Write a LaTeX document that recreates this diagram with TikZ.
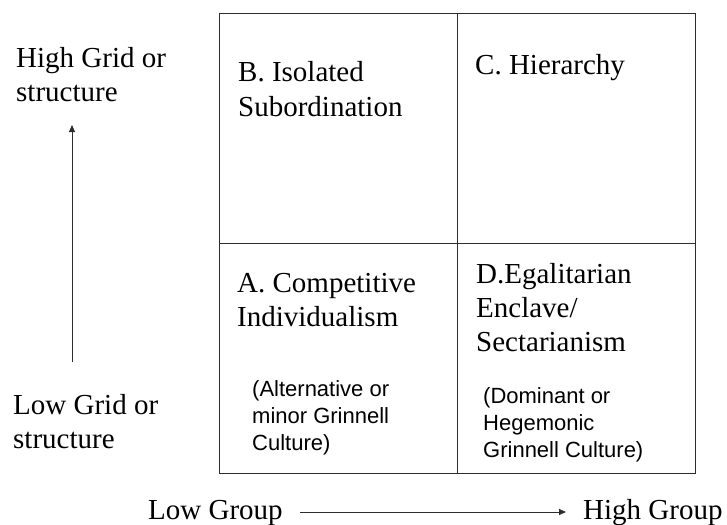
\documentclass[tikz,border=0pt]{standalone}
\usepackage{fontspec}
\setmainfont{Liberation Serif}
\newfontfamily\notefont{Liberation Sans}
\usetikzlibrary{arrows.meta, positioning}
\definecolor{gLine}{RGB}{45, 45, 45}

\begin{document}
\begin{tikzpicture}[x=1pt, y=-1pt,
    cell/.style={draw=gLine, line width=0.9pt, minimum width=238pt, minimum height=230pt, inner sep=0pt},
    label/.style={anchor=base west, inner sep=0pt, align=left, font=\fontsize{29}{34}\selectfont},
    note/.style={anchor=base west, inner sep=0pt, align=left, font=\notefont\fontsize{22}{27}\selectfont},
    axis/.style={draw=gLine, line width=0.9pt, -{Triangle[length=7pt, width=6pt]}}]
  \useasboundingbox (0,0) rectangle (727,524);

  % the four cells
  \node[cell] (qB) at (338,128) {};
  \node[cell, right=0pt of qB] (qC) {};
  \node[cell, below=0pt of qB] (qA) {};
  \node[cell, right=0pt of qA] (qD) {};

  % base anchor sits on the last line
  \node[label] (lB) at (238,116) {B. Isolated\\Subordination};
  \node[label] (lC) at (475,75) {C. Hierarchy};
  \node[label] (lA) at (237,326) {A. Competitive\\Individualism};
  \node[label] (lD) at (476,351) {D.Egalitarian\\Enclave/\\Sectarianism};
  \node[note] (nA) at (252,450) {(Alternative or\\minor Grinnell\\Culture)};
  \node[note] (nD) at (483,457) {(Dominant or\\Hegemonic\\Grinnell Culture)};

  % grid axis
  \node[label] (hiGrid) at (16,102) {High Grid or\\structure};
  \node[label] (loGrid) at (13,448) {Low Grid or\\structure};
  \coordinate (gridLo) at (72,362);
  \coordinate (gridHi) at (72,125);
  \draw[axis] (gridLo) -- (gridHi);

  % group axis
  \node[label] (loGroup) at (148,519) {Low Group};
  \node[label] (hiGroup) at (583,519) {High Group};
  \coordinate (groupLo) at (300,512);
  \coordinate (groupHi) at (566,512);
  \draw[axis] (groupLo) -- (groupHi);
\end{tikzpicture}
\end{document}
